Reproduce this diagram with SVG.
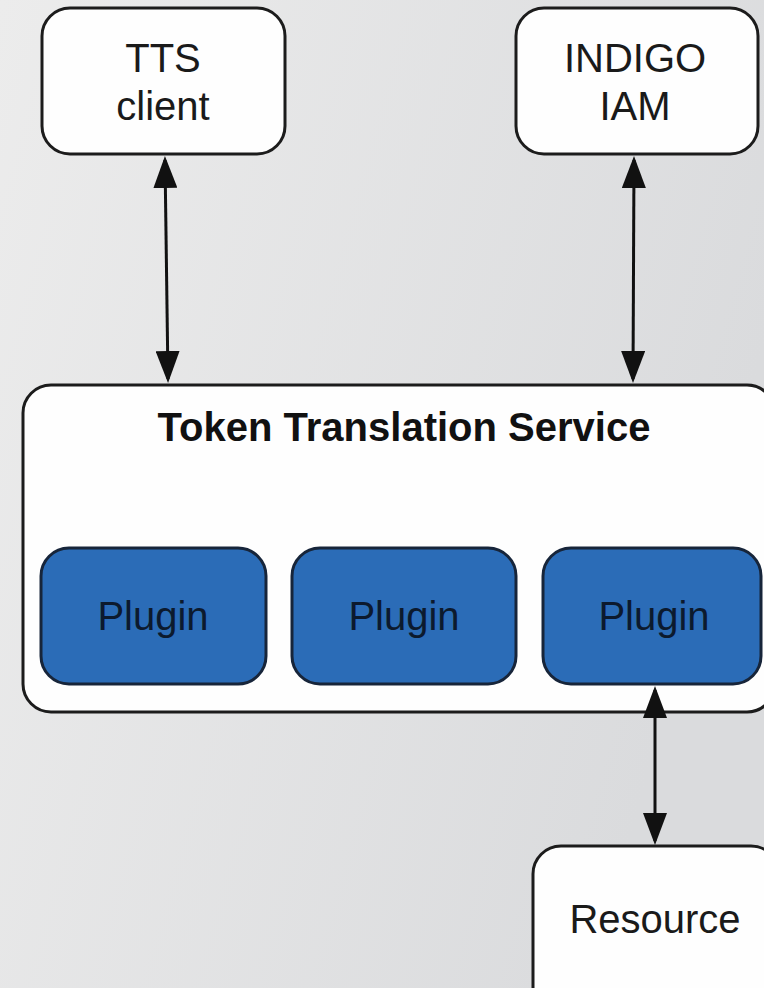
<svg xmlns="http://www.w3.org/2000/svg" width="764" height="988" viewBox="0 0 764 988">
  <defs>
    <linearGradient id="bg" x1="0" y1="0" x2="1" y2="0.35">
      <stop offset="0" stop-color="#ececec"/>
      <stop offset="1" stop-color="#dadbdd"/>
    </linearGradient>
    <marker id="arr" viewBox="0 0 32 24" markerUnits="userSpaceOnUse" markerWidth="32" markerHeight="24" refX="28" refY="12" orient="auto-start-reverse">
      <path d="M0,0 L32,12 L0,24 z" fill="#111"/>
    </marker>
    <style>
      .box { fill: #fefefe; stroke: #1c1c1c; stroke-width: 3; }
      .plug { fill: #2b6cb7; stroke: #17253a; stroke-width: 3; }
      .lbl { font-family: "Liberation Sans", Arial, sans-serif; font-size: 40px; fill: #1a1a1a; text-anchor: middle; }
      .plbl { font-family: "Liberation Sans", Arial, sans-serif; font-size: 40px; fill: #0c1a2e; text-anchor: middle; }
      .title { font-family: "Liberation Sans", Arial, sans-serif; font-size: 40px; font-weight: bold; fill: #111; text-anchor: middle; }
      .conn { stroke: #111; stroke-width: 3; fill: none; marker-start: url(#arr); marker-end: url(#arr); }
    </style>
  </defs>
  <rect x="0" y="0" width="764" height="988" fill="url(#bg)"/>

  <g id="tts-client">
    <rect class="box" x="42" y="8" width="243" height="146" rx="28"/>
    <text class="lbl" x="163" y="72">TTS</text>
    <text class="lbl" x="163" y="120">client</text>
  </g>

  <g id="indigo-iam">
    <rect class="box" x="516" y="8" width="242" height="146" rx="28"/>
    <text class="lbl" x="635" y="72">INDIGO</text>
    <text class="lbl" x="635" y="120">IAM</text>
  </g>

  <g id="tts-service">
    <rect class="box" x="23" y="385" width="752" height="327" rx="28"/>
    <text class="title" x="404" y="441">Token Translation Service</text>
  </g>

  <g id="plugin-1">
    <rect class="plug" x="41" y="548" width="225" height="136" rx="28"/>
    <text class="plbl" x="153" y="630">Plugin</text>
  </g>
  <g id="plugin-2">
    <rect class="plug" x="292" y="548" width="224" height="136" rx="28"/>
    <text class="plbl" x="404" y="630">Plugin</text>
  </g>
  <g id="plugin-3">
    <rect class="plug" x="543" y="548" width="218" height="136" rx="28"/>
    <text class="plbl" x="654" y="630">Plugin</text>
  </g>

  <g id="resource">
    <rect class="box" x="533" y="846" width="246" height="170" rx="28"/>
    <text class="lbl" x="655" y="933">Resource</text>
  </g>

  <g id="connectors">
    <path class="conn" d="M165,160 L168,379"/>
    <path class="conn" d="M634,160 L633,379"/>
    <path class="conn" d="M655,690 L655,841"/>
  </g>
</svg>
